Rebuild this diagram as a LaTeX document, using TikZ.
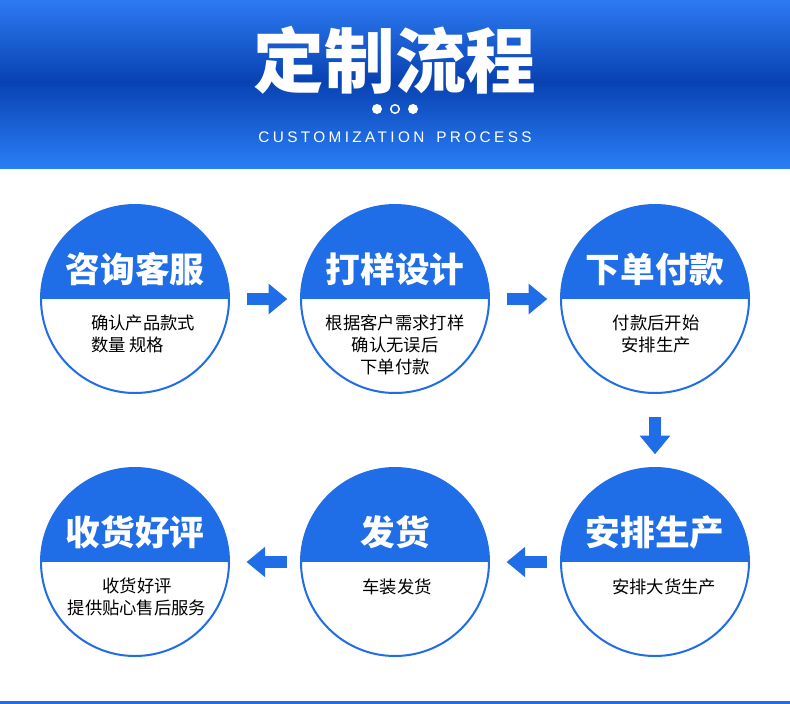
\documentclass[tikz,border=0pt]{standalone}
\usepackage{fontspec}
\setmainfont{Liberation Sans}
\newfontfamily\cjk{Noto Sans CJK SC}
\newfontfamily\spaced[LetterSpace=22]{Liberation Sans}
\usetikzlibrary{arrows.meta, positioning}
\usepackage{xcolor}
\definecolor{stepblue}{RGB}{31,110,232}
\definecolor{hdtop}{RGB}{45,122,242}
\definecolor{hdmid}{RGB}{8,66,178}
\definecolor{hdbot}{RGB}{42,126,246}

\begin{document}
\begin{tikzpicture}[x=0.75pt, y=-0.75pt,
    stage/.style={circle, draw=stepblue, line width=1.5pt, minimum size=141pt, inner sep=0pt,
      path picture={\fill[stepblue] (path picture bounding box.west) rectangle (path picture bounding box.north east);}},
    head/.style={text=white, font=\cjk\bfseries\fontsize{26}{30}\selectfont},
    body/.style={font=\cjk\fontsize{13}{16.5}\selectfont, align=center},
    flow/.style={stepblue, line width=9pt, -{Triangle[length=14pt, width=22pt]}}]
			\useasboundingbox (0,0) rectangle (790,704);
			\fill[white] (0,0) rectangle (790,704);
			
			% header band, dark in the middle
			\shade[top color=hdtop, bottom color=hdmid] (0,0) rectangle (790,82);
			\shade[top color=hdmid, bottom color=hdbot] (0,81.5) rectangle (790,168);
			\node[text=white, font=\cjk\bfseries\fontsize{53}{56}\selectfont] (title) at (395,60) {定制流程};
			\fill[white] (377,109) circle (3.75pt);
			\draw[white, line width=1.1pt] (395,109) circle (3.2pt);
			\fill[white] (413,109) circle (3.75pt);
			\node[text=white, font=\spaced\fontsize{11.5}{13}\selectfont] (subtitle) at (395,137.5) {CUSTOMIZATION\kern 9pt PROCESS};
			
			% steps
			\foreach \name/\x/\y/\label in {s1/135/299/咨询客服, s2/395/299/打样设计, s3/655/299/下单付款,
				s6/655/562/安排生产, s5/395/562/发货, s4/135/562/收货好评}{
				\node[stage] (\name) at (\x,\y) {};
				\node[head] (\name-head) at (\x,\y-30) {\label};
			}
			
			\node[body, align=left] (s1-text) at (143,334) {确认产品款式\\数量 规格};
			\node[body] (s2-text) at (395,345) {根据客户需求打样\\确认无误后\\下单付款};
			\node[body] (s3-text) at (656,334) {付款后开始\\安排生产};
			\node[body] (s6-text) at (664,587) {安排大货生产};
			\node[body] (s5-text) at (397,587) {车装发货};
			\node[body] (s4-text) at (137,597) {收货好评\\提供贴心售后服务};
			
			% arrows
			\draw[flow, shorten <=13pt, shorten >=9.5pt] (s1) -- (s2);
			\draw[flow, shorten <=13pt, shorten >=9.5pt] (s2) -- (s3);
			\draw[flow, shorten <=17pt, shorten >=9.5pt] (s3) -- (s6);
			\draw[flow, shorten <=9.75pt, shorten >=12.4pt] (s6) -- (s5);
			\draw[flow, shorten <=9.75pt, shorten >=12.4pt] (s5) -- (s4);
			
			\fill[stepblue] (0,701) rectangle (790,704);
		\end{tikzpicture}
\end{document}
